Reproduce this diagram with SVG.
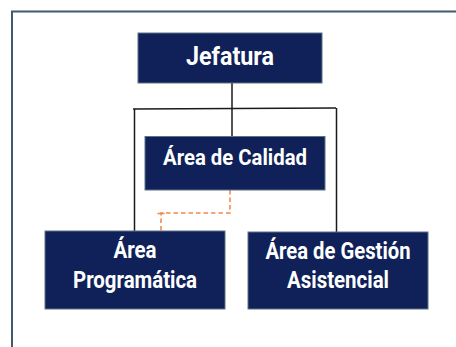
<svg xmlns="http://www.w3.org/2000/svg" width="456" height="347" viewBox="0 0 456 347">
<style>
.box{fill:#0f2158;stroke:#5c7384;stroke-width:1}
.t{fill:#ffffff;font-family:Roboto,"Liberation Sans",sans-serif;font-weight:bold;text-anchor:middle}
.ln{fill:none;stroke:#1a1a1a;stroke-width:1.5}
.dash{fill:none;stroke:#f4894a;stroke-width:1.6;stroke-dasharray:4.5 3}
</style>
<rect x="0" y="0" width="456" height="347" fill="#ffffff"/>
<path d="M12 347 V11.5 H456" fill="none" stroke="#41596a" stroke-width="2"/>
<g id="connectors">
<path class="ln" d="M232 83 V137"/>
<path class="ln" d="M133 109 L336 108"/>
<path class="ln" d="M134.5 109 V231"/>
<path class="ln" d="M336.5 108 V232"/>
<path class="dash" d="M230 190 V213 H161 V231"/>
<path d="M157.5 213.5 H164.5" stroke="#f4894a" stroke-width="1.6"/>
</g>
<g id="jefatura">
<rect class="box" x="138" y="33" width="184" height="50"/>
<text class="t" x="230" y="65" font-size="25" textLength="88" lengthAdjust="spacingAndGlyphs">Jefatura</text>
</g>
<g id="calidad">
<rect class="box" x="145" y="136.5" width="180" height="53.5"/>
<text class="t" x="235" y="165" font-size="22" textLength="144" lengthAdjust="spacingAndGlyphs">Área de Calidad</text>
</g>
<g id="programatica">
<rect class="box" x="45" y="231" width="180" height="78"/>
<text class="t" x="135" y="258" font-size="24" textLength="43" lengthAdjust="spacingAndGlyphs">Área</text>
<text class="t" x="135" y="288" font-size="24" textLength="124" lengthAdjust="spacingAndGlyphs">Programática</text>
</g>
<g id="gestion">
<rect class="box" x="248" y="232" width="180" height="77"/>
<text class="t" x="338" y="258.5" font-size="24" textLength="145" lengthAdjust="spacingAndGlyphs">Área de Gestión</text>
<text class="t" x="338" y="288" font-size="24" textLength="102" lengthAdjust="spacingAndGlyphs">Asistencial</text>
</g>
</svg>
